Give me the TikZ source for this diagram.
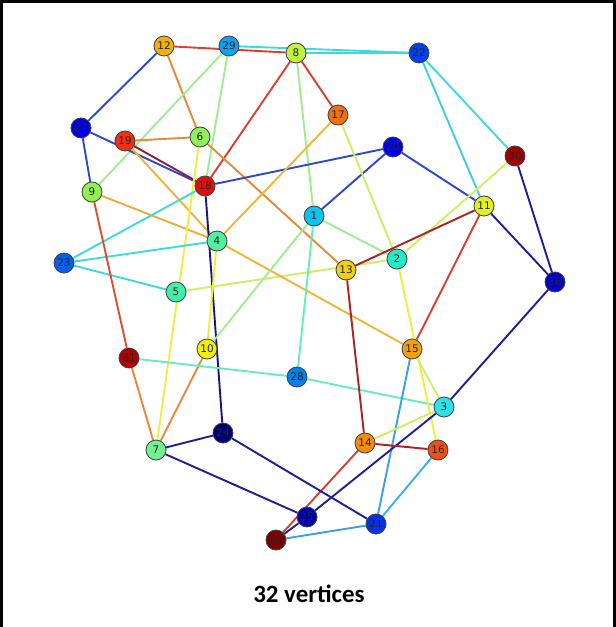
\documentclass[tikz,border=0pt]{standalone}
\usepackage{fontspec}
\setmainfont{Carlito}
\newfontfamily\lblfont{DejaVu Sans}
\usetikzlibrary{backgrounds}
% node colours
\definecolor{v1}{HTML}{10C0F0}
\definecolor{v2}{HTML}{20EAC8}
\definecolor{v3}{HTML}{30E0E8}
\definecolor{v4}{HTML}{50F0A0}
\definecolor{v5}{HTML}{40F0A8}
\definecolor{v6}{HTML}{90F060}
\definecolor{v7}{HTML}{70F090}
\definecolor{v8}{HTML}{C0F040}
\definecolor{v9}{HTML}{90F050}
\definecolor{v10}{HTML}{F0F010}
\definecolor{v11}{HTML}{E0F020}
\definecolor{v12}{HTML}{F0B010}
\definecolor{v13}{HTML}{F0D010}
\definecolor{v14}{HTML}{F08C10}
\definecolor{v15}{HTML}{F0A010}
\definecolor{v16}{HTML}{F05010}
\definecolor{v17}{HTML}{F07010}
\definecolor{v18}{HTML}{E01000}
\definecolor{v19}{HTML}{F03010}
\definecolor{v20}{HTML}{0000F0}
\definecolor{v21}{HTML}{0030F0}
\definecolor{v22}{HTML}{0040F0}
\definecolor{v23}{HTML}{0060F0}
\definecolor{v24}{HTML}{000070}
\definecolor{v25}{HTML}{0000B0}
\definecolor{v26}{HTML}{0000D0}
\definecolor{v27}{HTML}{0000E8}
\definecolor{v28}{HTML}{0080F0}
\definecolor{v29}{HTML}{10A0F0}
\definecolor{v30}{HTML}{A00000}
\definecolor{v31}{HTML}{B00000}
\definecolor{v32}{HTML}{800000}
% edge colours
\definecolor{eblue}{HTML}{2A48D0}
\definecolor{enavy}{HTML}{1E1E9A}
\definecolor{edkred}{HTML}{B02020}
\definecolor{ered}{HTML}{D8402E}
\definecolor{eorange}{HTML}{E88838}
\definecolor{eyorange}{HTML}{F0B438}
\definecolor{eyellow}{HTML}{EEEE40}
\definecolor{eygreen}{HTML}{CCF060}
\definecolor{elgreen}{HTML}{A0EC90}
\definecolor{emint}{HTML}{64EEC0}
\definecolor{ecyan}{HTML}{40D8E0}
\definecolor{esky}{HTML}{3AA0E4}
\begin{document}
\begin{tikzpicture}[x=1bp,y=-1bp,
  vtx/.style={circle,draw=black!75,line width=0.8bp,minimum size=20bp,inner sep=0pt,
    font=\lblfont\fontsize{10.5}{10.5}\selectfont,text=black!85},
  edge/.style={line width=1.9bp}]
\useasboundingbox (0,0) rectangle (616,627);
\draw[line width=3bp] (1.5,627) -- (1.5,1.5) -- (614.5,1.5) -- (614.5,627);

\node[vtx,fill=v12] (n12) at (164,46) {12};
\node[vtx,fill=v29] (n29) at (229,46) {29};
\node[vtx,fill=v8]  (n8)  at (296,53) {8};
\node[vtx,fill=v22] (n22) at (419,53) {22};
\node[vtx,fill=v17] (n17) at (338,115) {17};
\node[vtx,fill=v27] (n27) at (81,128) {27};
\node[vtx,fill=v19] (n19) at (125,141) {19};
\node[vtx,fill=v6]  (n6)  at (200,137) {6};
\node[vtx,fill=v20] (n20) at (393,147) {20};
\node[vtx,fill=v30] (n30) at (515,156) {30};
\node[vtx,fill=v18] (n18) at (205,186) {18};
\node[vtx,fill=v9]  (n9)  at (92,192) {9};
\node[vtx,fill=v11] (n11) at (484,206) {11};
\node[vtx,fill=v1]  (n1)  at (314,216) {1};
\node[vtx,fill=v4]  (n4)  at (217,241) {4};
\node[vtx,fill=v2]  (n2)  at (397,259) {2};
\node[vtx,fill=v13] (n13) at (346,270) {13};
\node[vtx,fill=v23] (n23) at (64,263) {23};
\node[vtx,fill=v5]  (n5)  at (176,292) {5};
\node[vtx,fill=v26] (n26) at (555,282) {26};
\node[vtx,fill=v15] (n15) at (412,349) {15};
\node[vtx,fill=v31] (n31) at (129,358) {31};
\node[vtx,fill=v10] (n10) at (207,349) {10};
\node[vtx,fill=v28] (n28) at (297,377) {28};
\node[vtx,fill=v3]  (n3)  at (444,407) {3};
\node[vtx,fill=v24] (n24) at (223,433) {24};
\node[vtx,fill=v7]  (n7)  at (156,450) {7};
\node[vtx,fill=v14] (n14) at (365,443) {14};
\node[vtx,fill=v16] (n16) at (438,450) {16};
\node[vtx,fill=v25] (n25) at (307,517) {25};
\node[vtx,fill=v21] (n21) at (376,524) {21};
\node[vtx,fill=v32] (n32) at (276,540) {32};

\begin{scope}[on background layer]
\draw[edge,eblue] (n27) -- (n12);
\draw[edge,ered] (n12) -- (n8);
\draw[edge,eorange] (n12) -- (n6);
\draw[edge,elgreen] (n29) -- (n9);
\draw[edge,elgreen] (n29) -- (n18);
\draw[edge,ecyan] (n29) -- (n22);
\draw[edge,ecyan] (n8) -- (n22);
\draw[edge,ered] (n8) -- (n18);
\draw[edge,ered] (n8) -- (n17);
\draw[edge,elgreen] (n8) -- (n1);
\draw[edge,eblue] (n27) -- (n18);
\draw[edge,edkred!70!enavy] (n19) -- (n18);
\draw[edge,eblue] (n27) -- (n9);
\draw[edge,eorange] (n19) -- (n6);
\draw[edge,eyorange] (n19) -- (n4);
\draw[edge,eyorange!80!eorange] (n9) -- (n4);
\draw[edge,eorange] (n6) -- (n13);
\draw[edge,eyellow] (n6) -- (n7);
\draw[edge,eblue] (n18) -- (n20);
\draw[edge,enavy!80!black] (n18) -- (n24);
\draw[edge,ecyan] (n23) -- (n18);
\draw[edge,ecyan] (n23) -- (n4);
\draw[edge,ecyan] (n23) -- (n5);
\draw[edge,eygreen] (n5) -- (n2);
\draw[edge,eyorange] (n4) -- (n17);
\draw[edge,eyorange] (n4) -- (n15);
\draw[edge,elgreen] (n10) -- (n1);
\draw[edge,eyellow] (n4) -- (n10);
\draw[edge,eorange] (n10) -- (n7);
\draw[edge,eorange] (n31) -- (n7);
\draw[edge,ered!80!eorange] (n9) -- (n31);
\draw[edge,emint] (n31) -- (n28);
\draw[edge,emint] (n28) -- (n3);
\draw[edge,emint] (n1) -- (n28);
\draw[edge,elgreen] (n1) -- (n2);
\draw[edge,eblue] (n1) -- (n20);
\draw[edge,eygreen] (n17) -- (n2);
\draw[edge,eyellow] (n2) -- (n16);
\draw[edge,ecyan!80!esky] (n22) -- (n11);
\draw[edge,ecyan] (n22) -- (n30);
\draw[edge,eblue] (n20) -- (n11);
\draw[edge,eygreen] (n30) -- (n2);
\draw[edge,enavy] (n30) -- (n26);
\draw[edge,enavy] (n11) -- (n26);
\draw[edge,edkred] (n11) -- (n13);
\draw[edge,ered] (n11) -- (n15);
\draw[edge,edkred] (n13) -- (n14);
\draw[edge,eygreen] (n15) -- (n3);
\draw[edge,esky] (n15) -- (n21);
\draw[edge,enavy] (n26) -- (n3);
\draw[edge,enavy] (n3) -- (n25);
\draw[edge,eygreen] (n3) -- (n14);
\draw[edge,edkred] (n14) -- (n16);
\draw[edge,ered] (n14) -- (n32);
\draw[edge,esky!70!ecyan] (n16) -- (n21);
\draw[edge,esky] (n21) -- (n32);
\draw[edge,enavy] (n21) -- (n24);
\draw[edge,enavy] (n7) -- (n24);
\draw[edge,enavy] (n7) -- (n25);
\draw[edge,enavy] (n25) -- (n32);
\end{scope}

\node[font=\bfseries\fontsize{25}{25}\selectfont] (title) at (309,594) {32 vertices};
\end{tikzpicture}
\end{document}
